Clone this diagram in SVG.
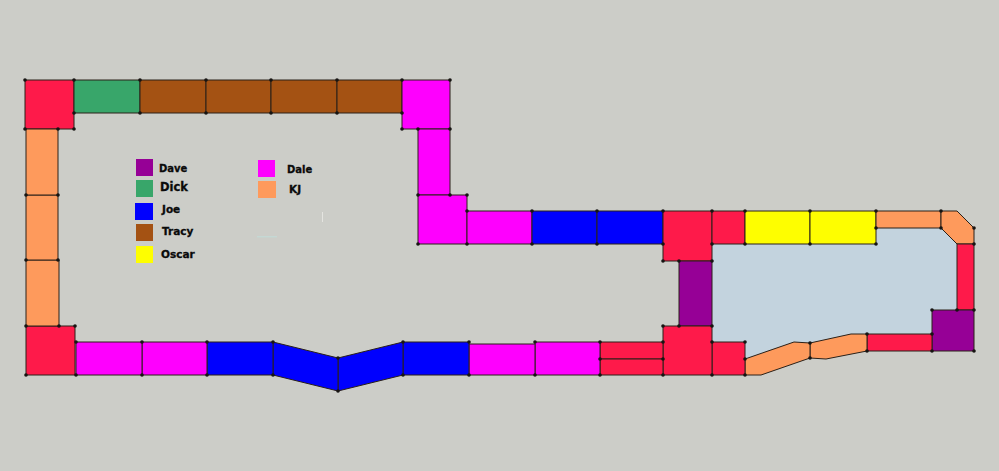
<svg xmlns="http://www.w3.org/2000/svg" width="999" height="471" viewBox="0 0 999 471">
<style>
.s{stroke:#2a2018;stroke-width:1;stroke-linejoin:round}
.r{fill:#fe1a4a}.g{fill:#38a66a}.b{fill:#a45213}.o{fill:#fe9a5c}.p{fill:#960096}.m{fill:#fe00fe}.u{fill:#0000fe}.y{fill:#fefe00}
.t{font-family:"DejaVu Sans","Liberation Sans",sans-serif;font-weight:bold;fill:#0a0a0a;stroke:#0a0a0a;stroke-width:.3}
.v{fill:#161412}
</style>
<defs><circle id="d" r="1.8" class="v"/></defs>
<rect width="999" height="471" fill="#cccdc8"/>
<polygon id="floor" fill="#c3d3de" points="712,244 876,244 876,228 941,228 957,244 957,310 932,310 932,334 851,334 810,343 794,342 745,359 745,342 712,342"/>
<g id="segments">
<g id="s01"><rect class="s r" x="25" y="80" width="49" height="49"/></g>
<g id="s02"><rect class="s g" x="74" y="80" width="66" height="33"/></g>
<g id="s03"><rect class="s b" x="140" y="80" width="66" height="33"/></g>
<g id="s04"><rect class="s b" x="206" y="80" width="65" height="33"/></g>
<g id="s05"><rect class="s b" x="271" y="80" width="66" height="33"/></g>
<g id="s06"><rect class="s b" x="337" y="80" width="65" height="33"/></g>
<g id="s07"><rect class="s m" x="402" y="80" width="48" height="49"/></g>
<g id="s08"><rect class="s m" x="418" y="129" width="32" height="66"/></g>
<g id="s09"><rect class="s m" x="418" y="195" width="49" height="49"/></g>
<g id="s10"><rect class="s m" x="467" y="211" width="65" height="33"/></g>
<g id="s11"><rect class="s u" x="532" y="211" width="65" height="33"/></g>
<g id="s12"><rect class="s u" x="597" y="211" width="66" height="33"/></g>
<g id="s13"><rect class="s r" x="663" y="211" width="49" height="50"/></g>
<g id="s14"><rect class="s r" x="712" y="211" width="33" height="33"/></g>
<g id="s15"><rect class="s y" x="745" y="211" width="65" height="33"/></g>
<g id="s16"><rect class="s y" x="810" y="211" width="66" height="33"/></g>
<g id="s17"><rect class="s o" x="876" y="211" width="65" height="17"/></g>
<g id="s18"><polygon class="s o" points="941,211 957,211 974,228 974,244 957,244 941,228"/></g>
<g id="s19"><rect class="s r" x="957" y="244" width="17" height="66"/></g>
<g id="s20"><rect class="s p" x="932" y="310" width="42" height="41"/></g>
<g id="s21"><rect class="s r" x="867" y="334" width="65" height="17"/></g>
<g id="s22"><polygon class="s o" points="867,334 851,334 810,343 810,358 826,359 867,351"/></g>
<g id="s23"><polygon class="s o" points="810,343 794,342 745,359 745,375 761,375 810,358"/></g>
<g id="s24"><rect class="s r" x="712" y="342" width="33" height="33"/></g>
<g id="s25"><rect class="s p" x="679" y="261" width="33" height="65"/></g>
<g id="s26"><rect class="s r" x="663" y="326" width="49" height="49"/></g>
<g id="s27"><rect class="s r" x="600" y="342" width="63" height="17"/></g>
<g id="s28"><rect class="s r" x="600" y="359" width="63" height="16"/></g>
<g id="s29"><rect class="s m" x="535" y="342" width="65" height="33"/></g>
<g id="s30"><rect class="s m" x="469" y="344" width="66" height="31"/></g>
<g id="s31"><rect class="s u" x="403" y="342" width="66" height="33"/></g>
<g id="s32"><polygon class="s u" points="338,358 403,342 403,375 338,391"/></g>
<g id="s33"><polygon class="s u" points="273,342 338,358 338,391 273,375"/></g>
<g id="s34"><rect class="s u" x="207" y="342" width="66" height="33"/></g>
<g id="s35"><rect class="s m" x="142" y="342" width="65" height="33"/></g>
<g id="s36"><rect class="s m" x="76" y="342" width="66" height="33"/></g>
<g id="s37"><rect class="s r" x="26" y="326" width="49" height="49"/></g>
<g id="s38"><rect class="s o" x="26" y="260" width="33" height="66"/></g>
<g id="s39"><rect class="s o" x="26" y="195" width="32" height="65"/></g>
<g id="s40"><rect class="s o" x="26" y="129" width="32" height="66"/></g>
</g>
<g id="vertices">
<use href="#d" x="25" y="80"/><use href="#d" x="74" y="80"/><use href="#d" x="140" y="80"/><use href="#d" x="206" y="80"/><use href="#d" x="271" y="80"/><use href="#d" x="337" y="80"/><use href="#d" x="402" y="80"/><use href="#d" x="450" y="80"/>
<use href="#d" x="74" y="113"/><use href="#d" x="140" y="113"/><use href="#d" x="206" y="113"/><use href="#d" x="271" y="113"/><use href="#d" x="337" y="113"/><use href="#d" x="402" y="113"/>
<use href="#d" x="25" y="129"/><use href="#d" x="58" y="129"/><use href="#d" x="74" y="129"/><use href="#d" x="402" y="129"/><use href="#d" x="418" y="129"/><use href="#d" x="450" y="129"/>
<use href="#d" x="26" y="195"/><use href="#d" x="58" y="195"/><use href="#d" x="418" y="195"/><use href="#d" x="450" y="195"/><use href="#d" x="467" y="195"/>
<use href="#d" x="467" y="211"/><use href="#d" x="532" y="211"/><use href="#d" x="597" y="211"/><use href="#d" x="663" y="211"/><use href="#d" x="712" y="211"/><use href="#d" x="745" y="211"/><use href="#d" x="810" y="211"/><use href="#d" x="876" y="211"/><use href="#d" x="941" y="211"/>
<use href="#d" x="876" y="228"/><use href="#d" x="941" y="228"/><use href="#d" x="974" y="228"/>
<use href="#d" x="418" y="244"/><use href="#d" x="467" y="244"/><use href="#d" x="532" y="244"/><use href="#d" x="597" y="244"/><use href="#d" x="663" y="244"/><use href="#d" x="712" y="244"/><use href="#d" x="745" y="244"/><use href="#d" x="810" y="244"/><use href="#d" x="876" y="244"/><use href="#d" x="974" y="244"/>
<use href="#d" x="26" y="260"/><use href="#d" x="58" y="260"/><use href="#d" x="663" y="261"/><use href="#d" x="679" y="261"/><use href="#d" x="712" y="261"/>
<use href="#d" x="932" y="310"/><use href="#d" x="957" y="310"/><use href="#d" x="974" y="310"/>
<use href="#d" x="26" y="326"/><use href="#d" x="59" y="326"/><use href="#d" x="75" y="326"/><use href="#d" x="663" y="326"/><use href="#d" x="679" y="326"/><use href="#d" x="712" y="326"/>
<use href="#d" x="867" y="334"/><use href="#d" x="932" y="334"/>
<use href="#d" x="76" y="342"/><use href="#d" x="142" y="342"/><use href="#d" x="207" y="342"/><use href="#d" x="273" y="342"/><use href="#d" x="403" y="342"/><use href="#d" x="469" y="342"/><use href="#d" x="535" y="342"/><use href="#d" x="600" y="342"/><use href="#d" x="663" y="342"/><use href="#d" x="712" y="342"/><use href="#d" x="745" y="342"/>
<use href="#d" x="810" y="343"/><use href="#d" x="867" y="351"/><use href="#d" x="932" y="351"/><use href="#d" x="974" y="351"/>
<use href="#d" x="338" y="358"/><use href="#d" x="810" y="358"/><use href="#d" x="600" y="359"/><use href="#d" x="663" y="359"/><use href="#d" x="745" y="359"/>
<use href="#d" x="26" y="375"/><use href="#d" x="76" y="375"/><use href="#d" x="142" y="375"/><use href="#d" x="207" y="375"/><use href="#d" x="273" y="375"/><use href="#d" x="403" y="375"/><use href="#d" x="469" y="375"/><use href="#d" x="535" y="375"/><use href="#d" x="600" y="375"/><use href="#d" x="663" y="375"/><use href="#d" x="712" y="375"/><use href="#d" x="745" y="375"/>
<use href="#d" x="338" y="391"/>
</g>
<g id="legend">
<g id="leg-dave"><rect class="p" x="136" y="159" width="17" height="17"/><text class="t" x="159" y="172" font-size="10">Dave</text></g>
<g id="leg-dick"><rect class="g" x="136" y="180" width="17" height="17"/><text class="t" x="160" y="191" font-size="11.5">Dick</text></g>
<g id="leg-joe"><rect class="u" x="135" y="203" width="18" height="17"/><text class="t" x="162" y="213" font-size="10.5">Joe</text></g>
<g id="leg-tracy"><rect class="b" x="136" y="224" width="17" height="17"/><text class="t" x="162" y="235" font-size="10.5">Tracy</text></g>
<g id="leg-oscar"><rect class="y" x="136" y="246" width="17" height="17"/><text class="t" x="161" y="258" font-size="10.5">Oscar</text></g>
<g id="leg-dale"><rect class="m" x="258" y="160" width="17" height="17"/><text class="t" x="287" y="173" font-size="10">Dale</text></g>
<g id="leg-kj"><rect class="o" x="258" y="181" width="18" height="17"/><text class="t" x="289" y="193" font-size="10.5">KJ</text></g>
</g>
<rect x="257" y="236" width="20" height="1.5" fill="#bfe0dc" opacity=".6"/>
<rect x="322" y="212" width="1" height="10" fill="#eeeeea" opacity=".7"/>
</svg>
